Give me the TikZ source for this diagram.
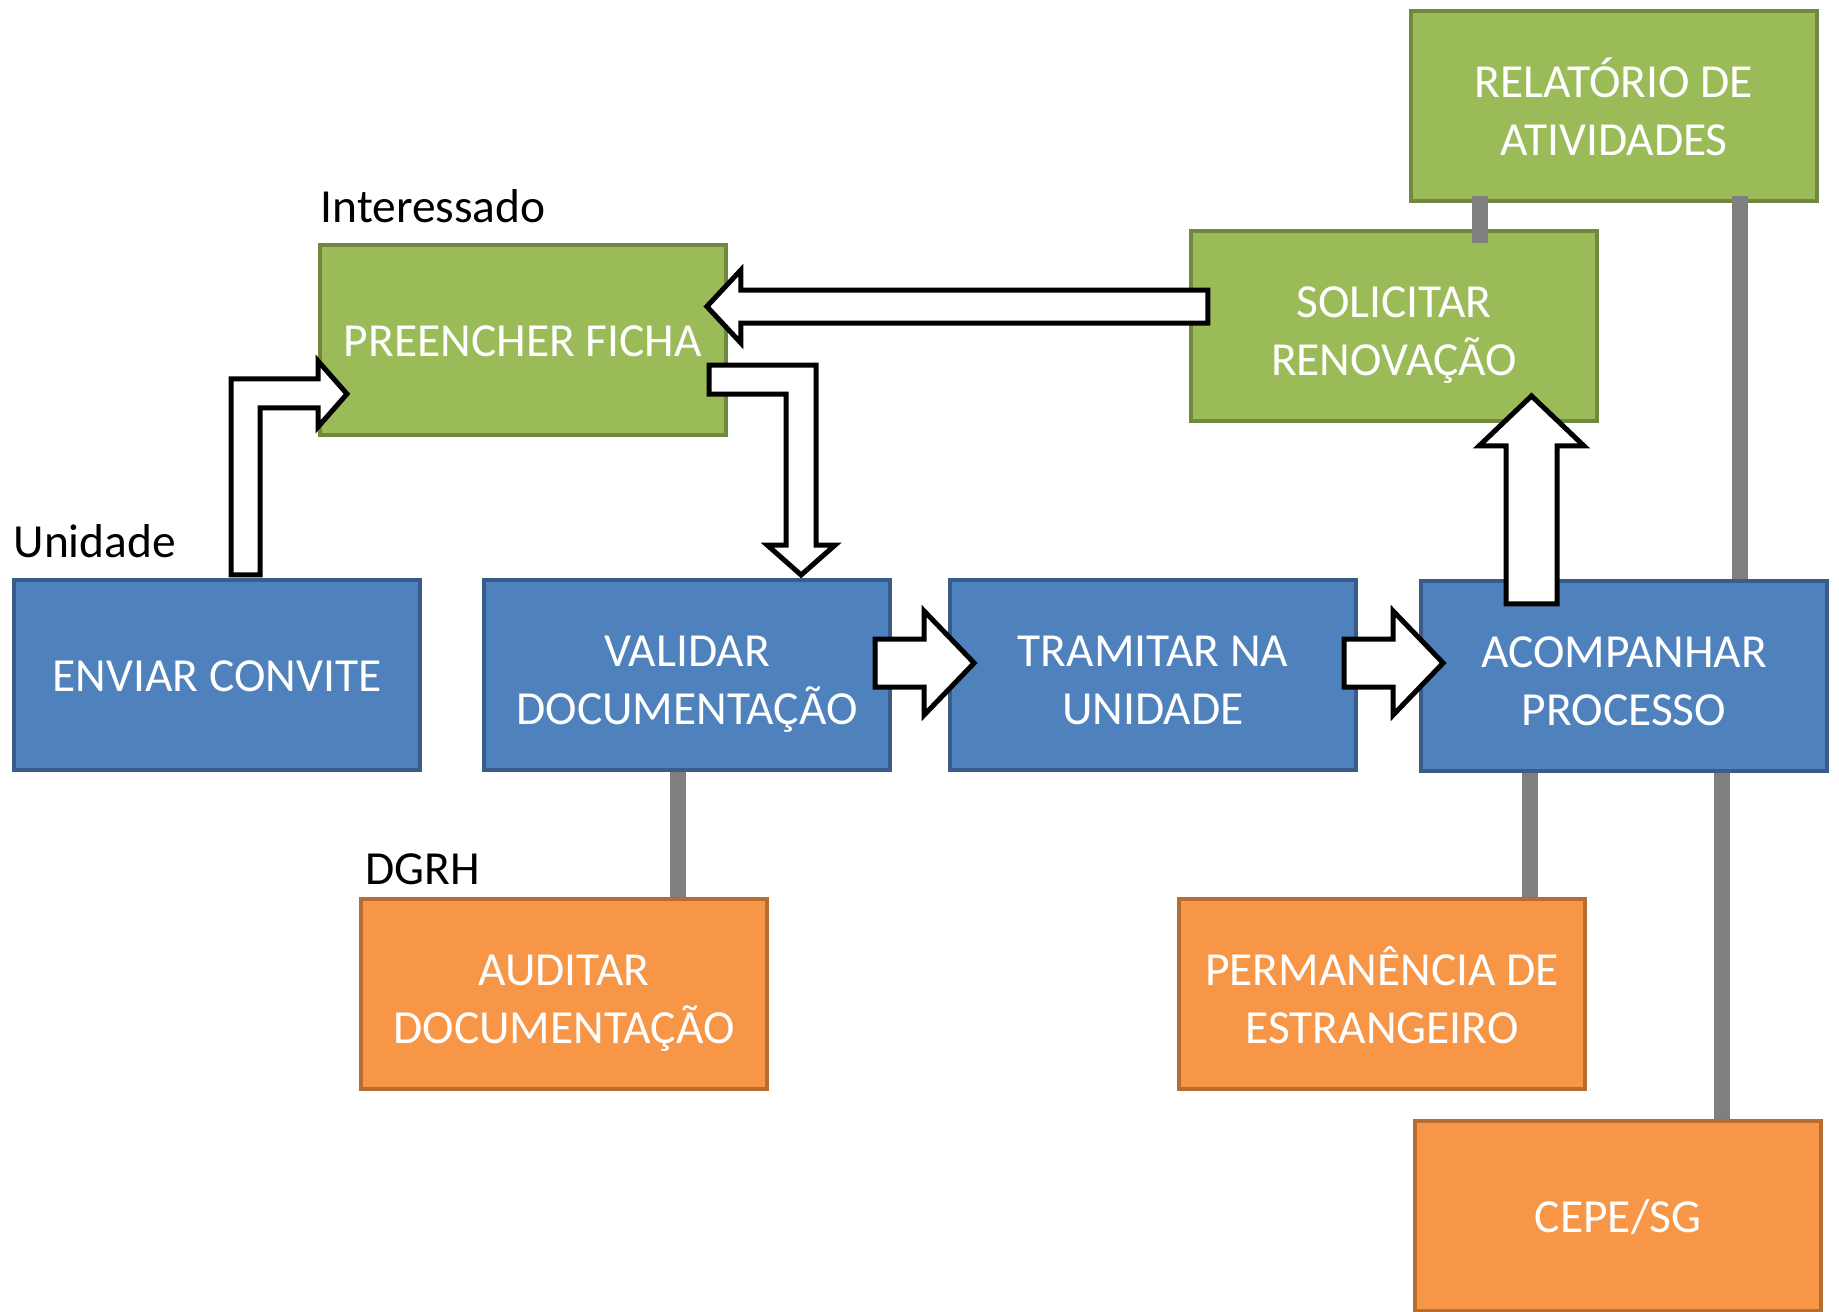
\documentclass[tikz,border=0pt]{standalone}
\usepackage{fontspec}
\setmainfont{Carlito}
\usetikzlibrary{calc}
\definecolor{azulfundo}{HTML}{4F81BD}
\definecolor{azulborda}{HTML}{385D8A}
\definecolor{verdefundo}{HTML}{9BBB59}
\definecolor{verdeborda}{HTML}{71893F}
\definecolor{laranjafundo}{HTML}{F79646}
\definecolor{laranjaborda}{HTML}{B66D31}
\definecolor{cinzaligacao}{HTML}{7F7F7F}
%altura fixa de cada linha de texto das caixas
\newcommand{\linha}{\rule[-3.2pt]{0pt}{15.6pt}}
%texto de duas linhas
\newcommand{\duas}[2]{\rule{0pt}{14.9pt}#1\\\linha #2}
\tikzstyle{caixa}    =[rectangle, minimum width=4.06cm, minimum height=1.90cm, inner sep=0pt, line width=0.04cm, align=center, text=white, execute at begin node=\linha]
\tikzstyle{azul}     =[caixa, fill=azulfundo, draw=azulborda]
\tikzstyle{verde}    =[caixa, fill=verdefundo, draw=verdeborda]
\tikzstyle{laranja}  =[caixa, fill=laranjafundo, draw=laranjaborda]
\tikzstyle{rotulo}   =[inner sep=0pt, anchor=base west, text=black]
\tikzstyle{ligacao}  =[draw=cinzaligacao, line width=0.16cm, line cap=butt]
\tikzstyle{bloco}    =[draw=black, fill=white, line width=0.05cm, line join=miter]

%seta larga : #1 origem, #2 rotacao, #3 comprimento, #4 meia haste, #5 meia ponta, #6 comprimento da ponta
\newcommand{\setareta}[6]{%
  \begin{scope}[shift={#1},rotate=#2]
    \draw[bloco] (0,-#4) -- (#3-#6,-#4) -- (#3-#6,-#5) -- (#3,0) -- (#3-#6,#5) -- (#3-#6,#4) -- (0,#4) -- cycle;
  \end{scope}}

\begin{document}
\begin{tikzpicture}[x=0.01cm, y=-0.01cm, font=\fontsize{13.5}{16.6}\selectfont]

\useasboundingbox (0,0) rectangle (1839,1312);

%%%%%%%%%%%%%%%%%%%%%%%%
%Caixas
%%%%%%%%%%%%%%%%%%%%%%%%

\node[azul] (envia) at (217,675) {ENVIAR CONVITE};
\node[azul] (valid) at (687,675) {\duas{VALIDAR}{DOCUMENTAÇÃO}};
\node[azul] (trami) at (1153,675) {\duas{TRAMITAR NA}{UNIDADE}};
\node[azul] (acomp) at (1624,676) {\duas{ACOMPANHAR}{PROCESSO}};

\node[verde] (preen) at (523,340) {PREENCHER FICHA};
\node[verde] (solic) at (1394,326) {\duas{SOLICITAR}{RENOVAÇÃO}};
\node[verde] (relat) at (1614,106) {\duas{RELATÓRIO DE}{ATIVIDADES}};

\node[laranja] (audit) at (564,994) {\duas{AUDITAR}{DOCUMENTAÇÃO}};
\node[laranja] (perma) at (1382,994) {\duas{PERMANÊNCIA DE}{ESTRANGEIRO}};
\node[laranja] (cepe) at (1618,1216) {CEPE/SG};

%rotulos dos atores
\node[rotulo] (lblinte) at ($(preen.north west)+(2,-20)$) {Interessado};
\node[rotulo] (lblunid) at ($(envia.north west)+(1,-20)$) {Unidade};
\node[rotulo] (lbldgrh) at ($(audit.north west)+(6,-12)$) {DGRH};

%%%%%%%%%%%%%%%%%%%%%%%%
%Ligacoes cinzas
%%%%%%%%%%%%%%%%%%%%%%%%

\draw[ligacao] ([xshift=-0.09cm]valid.south) -- ([xshift=-0.09cm]valid.south |- audit.north);
\draw[ligacao] ([xshift=-0.94cm]acomp.south) -- ([xshift=-0.94cm]acomp.south |- perma.north);
\draw[ligacao] ([xshift=0.98cm]acomp.south) -- ([xshift=0.98cm]acomp.south |- cepe.north);
\draw[ligacao] ([xshift=1.16cm]acomp.north) -- ([xshift=1.16cm,yshift=0.07cm]acomp.north |- relat.south);
\draw[ligacao] ([xshift=-1.34cm,yshift=0.07cm]relat.south) -- ([xshift=-1.34cm,yshift=-0.14cm]relat.south |- solic.north);

%%%%%%%%%%%%%%%%%%%%%%%%
%Setas largas
%%%%%%%%%%%%%%%%%%%%%%%%

%convite -> ficha (dobrada)
\draw[bloco] ($(envia.north)+(14,-3)$) -- ++(0,-196) -- ++(87,0) -- ++(0,-18) -- ++(29,33)
  -- ++(-29,33) -- ++(0,-19) -- ++(-58,0) -- ++(0,167) -- cycle;

%ficha -> validar (dobrada)
\draw[bloco] ($(preen.east)+(-19,25)$) -- ++(107,0) -- ++(0,180) -- ++(19,0) -- ++(-34,30)
  -- ++(-34,-30) -- ++(19,0) -- ++(0,-151) -- ++(-77,0) -- cycle;

\setareta{($(solic.west)+(19,-19.5)$)}{180}{501}{16.5}{36.5}{34}
\setareta{($(valid.east)+(-17,-12)$)}{0}{99}{24}{52}{50}
\setareta{($(trami.east)+(-14,-12)$)}{0}{99}{24}{52}{50}
\setareta{($(acomp.north)+(-92.5,25)$)}{90}{208}{25.5}{52.5}{50}

\end{tikzpicture}
\end{document}
